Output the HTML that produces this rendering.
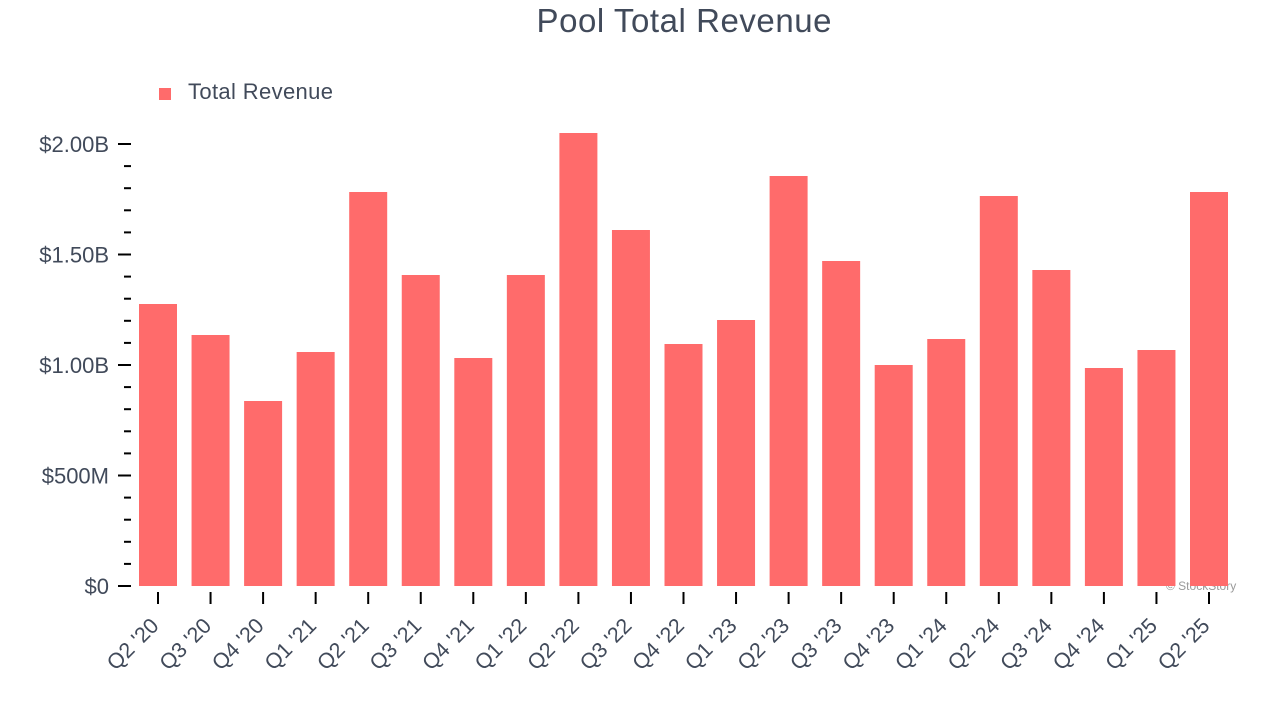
<!DOCTYPE html>
<html>
<head>
<meta charset="utf-8">
<style>
  html, body { margin: 0; padding: 0; background: #ffffff; }
  svg { display: block; }
  text { font-family: "Liberation Sans", Arial, Helvetica, sans-serif; }
</style>
</head>
<body>
<svg width="1280" height="720" viewBox="0 0 1280 720" xmlns="http://www.w3.org/2000/svg">
  <rect x="0" y="0" width="1280" height="720" fill="#ffffff"/>

  <!-- Title -->
  <text x="684" y="32" font-size="33" fill="#414a5a" text-anchor="middle" textLength="295" lengthAdjust="spacing">Pool Total Revenue</text>

  <!-- Legend -->
  <rect x="159" y="88" width="12" height="12" fill="#ff6b6b"/>
  <text x="188" y="99" font-size="22" fill="#414a5a" textLength="145" lengthAdjust="spacing">Total Revenue</text>

  <!-- Watermark (under bars) -->
  <text x="1166" y="590" font-size="12" fill="#9a9a9a">© StockStory</text>

  <!-- Bars -->
  <g fill="#ff6b6b">
    <rect x="139.00" y="304" width="38" height="282"/>
    <rect x="191.55" y="335" width="38" height="251"/>
    <rect x="244.10" y="401" width="38" height="185"/>
    <rect x="296.65" y="352" width="38" height="234"/>
    <rect x="349.20" y="192" width="38" height="394"/>
    <rect x="401.75" y="275" width="38" height="311"/>
    <rect x="454.30" y="358" width="38" height="228"/>
    <rect x="506.85" y="275" width="38" height="311"/>
    <rect x="559.40" y="133" width="38" height="453"/>
    <rect x="611.95" y="230" width="38" height="356"/>
    <rect x="664.50" y="344" width="38" height="242"/>
    <rect x="717.05" y="320" width="38" height="266"/>
    <rect x="769.60" y="176" width="38" height="410"/>
    <rect x="822.15" y="261" width="38" height="325"/>
    <rect x="874.70" y="365" width="38" height="221"/>
    <rect x="927.25" y="339" width="38" height="247"/>
    <rect x="979.80" y="196" width="38" height="390"/>
    <rect x="1032.35" y="270" width="38" height="316"/>
    <rect x="1084.90" y="368" width="38" height="218"/>
    <rect x="1137.45" y="350" width="38" height="236"/>
    <rect x="1190.00" y="192" width="38" height="394"/>
  </g>

  <!-- Y axis ticks -->
  <g stroke="#000000" stroke-width="2">
    <line x1="118" y1="586" x2="131" y2="586"/>
    <line x1="118" y1="475.5" x2="131" y2="475.5"/>
    <line x1="118" y1="365" x2="131" y2="365"/>
    <line x1="118" y1="254.5" x2="131" y2="254.5"/>
    <line x1="118" y1="144" x2="131" y2="144"/>
    <line x1="124" y1="563.9" x2="131" y2="563.9"/>
    <line x1="124" y1="541.8" x2="131" y2="541.8"/>
    <line x1="124" y1="519.7" x2="131" y2="519.7"/>
    <line x1="124" y1="497.6" x2="131" y2="497.6"/>
    <line x1="124" y1="453.4" x2="131" y2="453.4"/>
    <line x1="124" y1="431.3" x2="131" y2="431.3"/>
    <line x1="124" y1="409.2" x2="131" y2="409.2"/>
    <line x1="124" y1="387.1" x2="131" y2="387.1"/>
    <line x1="124" y1="342.9" x2="131" y2="342.9"/>
    <line x1="124" y1="320.8" x2="131" y2="320.8"/>
    <line x1="124" y1="298.7" x2="131" y2="298.7"/>
    <line x1="124" y1="276.6" x2="131" y2="276.6"/>
    <line x1="124" y1="232.4" x2="131" y2="232.4"/>
    <line x1="124" y1="210.3" x2="131" y2="210.3"/>
    <line x1="124" y1="188.2" x2="131" y2="188.2"/>
    <line x1="124" y1="166.1" x2="131" y2="166.1"/>
  </g>

  <!-- Y labels -->
  <g font-size="22" fill="#414a5a" text-anchor="end">
    <text x="109" y="594">$0</text>
    <text x="109" y="483.5">$500M</text>
    <text x="109" y="373">$1.00B</text>
    <text x="109" y="262.5">$1.50B</text>
    <text x="109" y="152">$2.00B</text>
  </g>

  <!-- X ticks -->
  <g stroke="#000000" stroke-width="2">
    <line x1="158.00" y1="592" x2="158.00" y2="604"/>
    <line x1="210.55" y1="592" x2="210.55" y2="604"/>
    <line x1="263.10" y1="592" x2="263.10" y2="604"/>
    <line x1="315.65" y1="592" x2="315.65" y2="604"/>
    <line x1="368.20" y1="592" x2="368.20" y2="604"/>
    <line x1="420.75" y1="592" x2="420.75" y2="604"/>
    <line x1="473.30" y1="592" x2="473.30" y2="604"/>
    <line x1="525.85" y1="592" x2="525.85" y2="604"/>
    <line x1="578.40" y1="592" x2="578.40" y2="604"/>
    <line x1="630.95" y1="592" x2="630.95" y2="604"/>
    <line x1="683.50" y1="592" x2="683.50" y2="604"/>
    <line x1="736.05" y1="592" x2="736.05" y2="604"/>
    <line x1="788.60" y1="592" x2="788.60" y2="604"/>
    <line x1="841.15" y1="592" x2="841.15" y2="604"/>
    <line x1="893.70" y1="592" x2="893.70" y2="604"/>
    <line x1="946.25" y1="592" x2="946.25" y2="604"/>
    <line x1="998.80" y1="592" x2="998.80" y2="604"/>
    <line x1="1051.35" y1="592" x2="1051.35" y2="604"/>
    <line x1="1103.90" y1="592" x2="1103.90" y2="604"/>
    <line x1="1156.45" y1="592" x2="1156.45" y2="604"/>
    <line x1="1209.00" y1="592" x2="1209.00" y2="604"/>
  </g>

  <!-- X labels -->
  <g font-size="21.5" fill="#414a5a" text-anchor="end">
    <text transform="translate(160.00,627) rotate(-45)">Q2 '20</text>
    <text transform="translate(212.55,627) rotate(-45)">Q3 '20</text>
    <text transform="translate(265.10,627) rotate(-45)">Q4 '20</text>
    <text transform="translate(317.65,627) rotate(-45)">Q1 '21</text>
    <text transform="translate(370.20,627) rotate(-45)">Q2 '21</text>
    <text transform="translate(422.75,627) rotate(-45)">Q3 '21</text>
    <text transform="translate(475.30,627) rotate(-45)">Q4 '21</text>
    <text transform="translate(527.85,627) rotate(-45)">Q1 '22</text>
    <text transform="translate(580.40,627) rotate(-45)">Q2 '22</text>
    <text transform="translate(632.95,627) rotate(-45)">Q3 '22</text>
    <text transform="translate(685.50,627) rotate(-45)">Q4 '22</text>
    <text transform="translate(738.05,627) rotate(-45)">Q1 '23</text>
    <text transform="translate(790.60,627) rotate(-45)">Q2 '23</text>
    <text transform="translate(843.15,627) rotate(-45)">Q3 '23</text>
    <text transform="translate(895.70,627) rotate(-45)">Q4 '23</text>
    <text transform="translate(948.25,627) rotate(-45)">Q1 '24</text>
    <text transform="translate(1000.80,627) rotate(-45)">Q2 '24</text>
    <text transform="translate(1053.35,627) rotate(-45)">Q3 '24</text>
    <text transform="translate(1105.90,627) rotate(-45)">Q4 '24</text>
    <text transform="translate(1158.45,627) rotate(-45)">Q1 '25</text>
    <text transform="translate(1211.00,627) rotate(-45)">Q2 '25</text>
  </g>
</svg>
</body>
</html>
